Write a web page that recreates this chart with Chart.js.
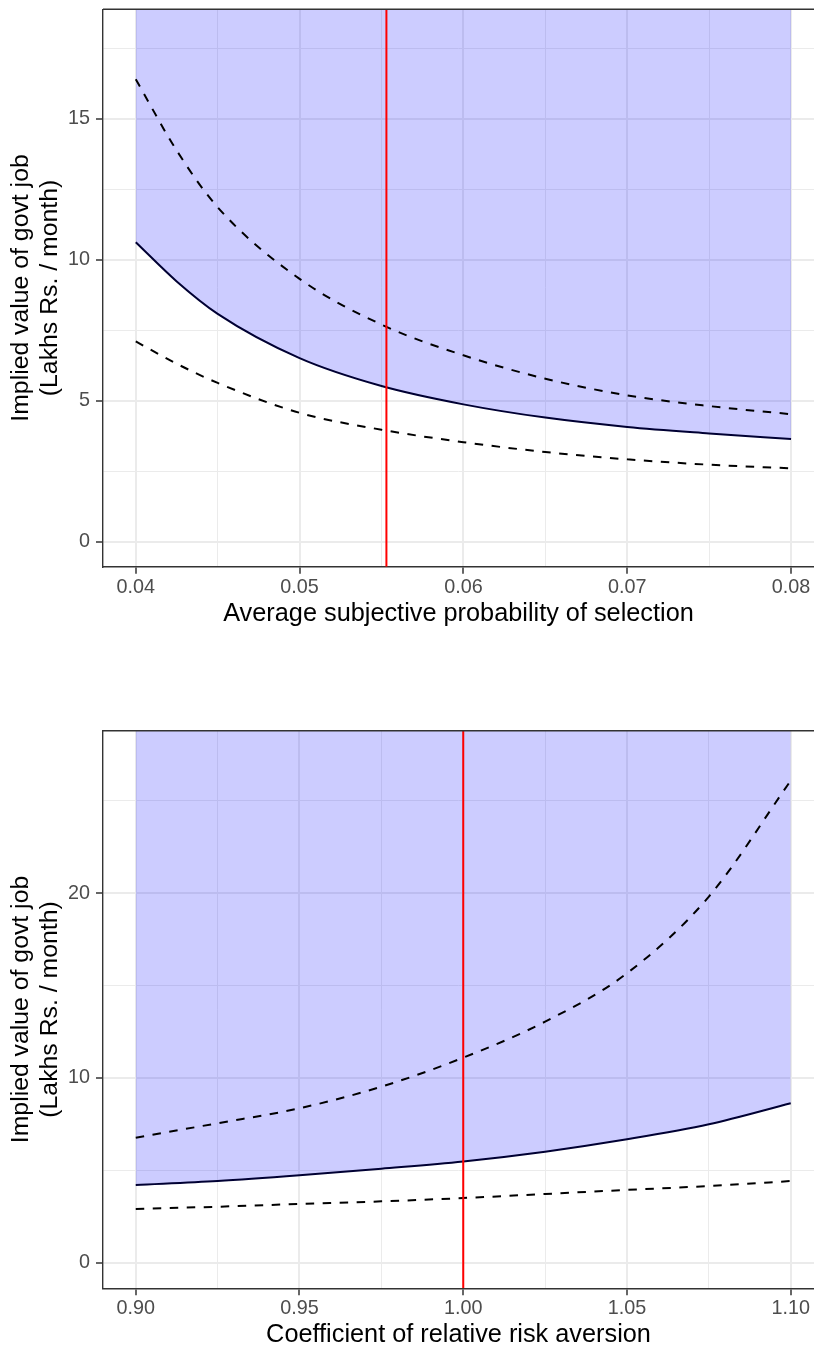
<!DOCTYPE html>
<html>
<head>
<meta charset="utf-8">
<script src="https://cdn.jsdelivr.net/npm/chart.js@4.4.1/dist/chart.umd.min.js"></script>
<style>
  html, body { margin: 0; padding: 0; background: #fff; overflow: hidden; }
  #topChart { position: absolute; left: 0; top: 0; }
  #bottomChart { position: absolute; left: 0; top: 660px; }
</style>
</head>
<body>
<canvas id="topChart" width="814" height="660"></canvas>
<canvas id="bottomChart" width="814" height="700"></canvas>
<script>
// top panel: value against subjective probability of selection
const probX = [0.04, 0.0425, 0.045, 0.05, 0.055, 0.06, 0.065, 0.07, 0.075, 0.08];
const probCentral = [10.62, 9.23, 8.08, 6.51, 5.52, 4.87, 4.40, 4.07, 3.84, 3.64];
const probUpper = [16.40, 13.87, 11.86, 9.32, 7.70, 6.61, 5.78, 5.19, 4.81, 4.52];
const probLower = [7.10, 6.31, 5.63, 4.57, 3.97, 3.53, 3.18, 2.92, 2.73, 2.60];
const probMarker = 0.0553;
const probXMajor = [0.04, 0.05, 0.06, 0.07, 0.08];
const probXMinor = [0.045, 0.055, 0.065, 0.075];
const probYMajor = [0, 5, 10, 15];
const probYMinor = [2.5, 7.5, 12.5, 17.5];

// bottom panel: value against coefficient of relative risk aversion
const craX = [0.90, 0.925, 0.95, 0.975, 1.00, 1.025, 1.05, 1.075, 1.10];
const craCentral = [4.21, 4.42, 4.73, 5.09, 5.48, 6.01, 6.68, 7.49, 8.63];
const craUpper = [6.77, 7.55, 8.36, 9.53, 11.10, 13.05, 15.67, 19.82, 26.10];
const craLower = [2.91, 3.03, 3.18, 3.32, 3.50, 3.72, 3.94, 4.15, 4.42];
const craMarker = 1.00;
const craXMajor = [0.90, 0.95, 1.00, 1.05, 1.10];
const craXMinor = [0.925, 0.975, 1.025, 1.075];
const craYMajor = [0, 10, 20];
const craYMinor = [5, 15, 25];

const yTitle = ['Implied value of govt job', '(Lakhs Rs. / month)'];

Chart.defaults.font.family = '"Liberation Sans", Arial, Helvetica, sans-serif';

// draws the top edge of the panel box
const panelFrame = {
    id: 'panelFrame',
    afterDraw(chart) {
        const {ctx, chartArea} = chart;
        ctx.save();
        ctx.strokeStyle = '#333333';
        ctx.lineWidth = 1.4;
        ctx.beginPath();
        ctx.moveTo(chartArea.left, chartArea.top);
        ctx.lineTo(chartArea.right, chartArea.top);
        ctx.stroke();
        ctx.restore();
    }
};

function tickList(major, minor) {
    const ticks = major.map(v => ({value: v, isMajor: true}))
        .concat(minor.map(v => ({value: v, isMajor: false})));
    return ticks.sort((a, b) => a.value - b.value);
}

function points(xs, ys) {
    return xs.map((x, i) => ({x: x, y: ys[i]}));
}

function gridOptions() {
    return {
        color: '#EBEBEB',
        lineWidth: ctx => (ctx.tick && ctx.tick.isMajor ? 2 : 1),
        tickLength: 7,
        tickWidth: 1.5,
        tickColor: ctx => (ctx.tick && ctx.tick.isMajor ? '#333333' : 'rgba(0,0,0,0)'),
    };
}

function makePanel(id, p) {
    const curve = {
        pointRadius: 0,
        borderWidth: 2,
        tension: 0.4,
        cubicInterpolationMode: 'monotone',
    };
    new Chart(document.getElementById(id), {
        type: 'line',
        data: {
            datasets: [
                {
                    data: [{x: p.marker, y: p.yMin}, {x: p.marker, y: p.yMax}],
                    borderColor: '#FF0000',
                    borderWidth: 2,
                    pointRadius: 0,
                    tension: 0,
                    order: 0,
                },
                Object.assign({
                    data: points(p.xs, p.upper),
                    borderColor: '#000000',
                    borderDash: [8.5, 8.5],
                    order: 1,
                }, curve),
                Object.assign({
                    data: points(p.xs, p.lower),
                    borderColor: '#000000',
                    borderDash: [8.5, 8.5],
                    order: 2,
                }, curve),
                Object.assign({
                    data: points(p.xs, p.central),
                    borderColor: '#000033',
                    fill: 'end',
                    backgroundColor: 'rgba(0,0,255,0.2)',
                    order: 3,
                }, curve),
            ]
        },
        options: {
            responsive: false,
            animation: false,
            events: [],
            layout: {padding: {top: p.padTop, left: 0, right: 0, bottom: 0}},
            plugins: {legend: {display: false}, tooltip: {enabled: false}},
            scales: {
                x: {
                    type: 'linear',
                    bounds: 'data',
                    min: p.xMin,
                    max: p.xMax,
                    afterBuildTicks: s => { s.ticks = tickList(p.xMajor, p.xMinor); },
                    afterFit: s => {
                        s.height = p.xAxisHeight;
                        s.paddingLeft = 0;
                        s.paddingRight = 0;
                    },
                    ticks: {
                        autoSkip: false,
                        maxRotation: 0,
                        padding: 1.7,
                        color: '#4D4D4D',
                        font: {size: 19.8},
                        callback: (v, i, t) => (t[i].isMajor ? v.toFixed(2) : ''),
                    },
                    grid: gridOptions(),
                    border: {display: true, color: '#333333', width: 1.4},
                    title: {
                        display: true,
                        text: p.xTitle,
                        color: '#000000',
                        font: {size: 25.3, lineHeight: 1.16},
                        padding: {top: 0, bottom: p.xTitlePad},
                    },
                },
                y: {
                    type: 'linear',
                    bounds: 'data',
                    min: p.yMin,
                    max: p.yMax,
                    afterBuildTicks: s => { s.ticks = tickList(p.yMajor, p.yMinor); },
                    afterFit: s => {
                        s.width = 103;
                        s.paddingTop = 0;
                        s.paddingBottom = 0;
                    },
                    ticks: {
                        autoSkip: false,
                        padding: 6,
                        color: '#4D4D4D',
                        font: {size: 19.8},
                        callback: (v, i, t) => (t[i].isMajor ? String(v) : ''),
                    },
                    grid: gridOptions(),
                    border: {display: true, color: '#333333', width: 1.4},
                    title: {
                        display: true,
                        text: yTitle,
                        color: '#000000',
                        font: {size: 24.8, lineHeight: 1.15},
                        padding: {top: 7, bottom: 0},
                    },
                },
            }
        },
        plugins: [panelFrame],
    });
}

makePanel('topChart', {
    xs: probX, central: probCentral, upper: probUpper, lower: probLower,
    marker: probMarker,
    xMin: 0.038, xMax: 0.0814, yMin: -0.887, yMax: 18.88,
    xMajor: probXMajor, xMinor: probXMinor, yMajor: probYMajor, yMinor: probYMinor,
    xTitle: 'Average subjective probability of selection',
    padTop: 9.3, xAxisHeight: 93.3, xTitlePad: 31.2,
});

makePanel('bottomChart', {
    xs: craX, central: craCentral, upper: craUpper, lower: craLower,
    marker: craMarker,
    xMin: 0.89, xMax: 1.1071, yMin: -1.386, yMax: 28.8,
    xMajor: craXMajor, xMinor: craXMinor, yMajor: craYMajor, yMinor: craYMinor,
    xTitle: 'Coefficient of relative risk aversion',
    padTop: 70.7, xAxisHeight: 71.7, xTitlePad: 9.9,
});
</script>
</body>
</html>
